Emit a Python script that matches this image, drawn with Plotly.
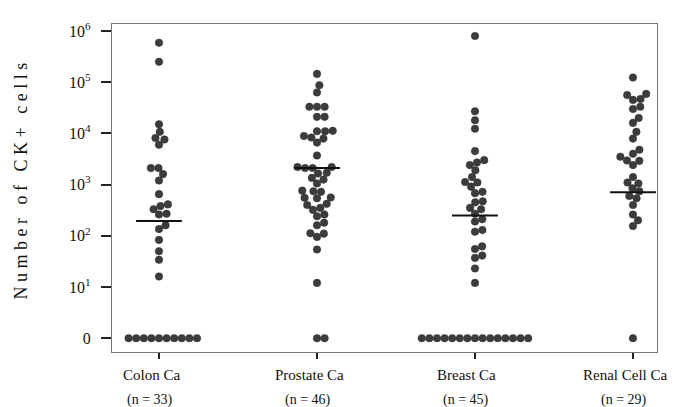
import math
import numpy as np
import plotly.graph_objects as go

# ---------------- data ----------------
categories = ["Colon Ca", "Prostate Ca", "Breast Ca", "Renal Cell Ca"]
n_labels = ["(n = 33)", "(n = 46)", "(n = 45)", "(n = 29)"]

colon = [590000, 250000, 15000, 10700, 8100, 7600, 6000, 2100, 2100, 1600, 1200,
         650, 410, 380, 330, 270, 260, 160, 135, 83, 50, 34, 16,
         0, 0, 0, 0, 0, 0, 0, 0, 0, 0]
prostate = [145000, 87000, 63000, 33000, 33000, 33000, 21000, 21000, 11200, 11000,
            11000, 8900, 8300, 7900, 6600, 3700, 2200, 2200, 2100, 2100, 1700, 1650,
            1350, 1250, 1050, 760, 740, 720, 560, 550, 540, 420, 400, 350, 320, 260,
            240, 180, 160, 112, 110, 95, 54, 12, 0, 0]
breast = [800000, 27000, 18000, 12300, 4500, 3000, 2700, 2400, 1900, 1400, 1120, 1100,
          910, 720, 680, 470, 450, 350, 330, 270, 210, 190, 130, 120, 62, 55, 41, 37,
          23, 12, 0, 0, 0, 0, 0, 0, 0, 0, 0, 0, 0, 0, 0, 0, 0]
renal = [123000, 59000, 56000, 47000, 45000, 33000, 30000, 20000, 16000, 10700, 7900,
         4800, 4000, 3500, 2950, 2900, 2400, 1400, 1100, 1050, 850, 740, 600, 540, 400,
         260, 200, 155, 0]
medians = [195, 2100, 250, 710]

tick_vals = [0, 10, 100, 1000, 10000, 100000, 1000000]
tick_text = ["0", "10<sup>1</sup>", "10<sup>2</sup>", "10<sup>3</sup>",
             "10<sup>4</sup>", "10<sup>5</sup>", "10<sup>6</sup>"]

groups = [colon, prostate, breast, renal]

# ---------------- layout geometry ----------------
# the page body has an 8px default margin, so the figure is sized to fit it
W, H = 668, 399
ML, MR, MT, MB = 104, 19, 14, 55
X_RANGE = [0.7025, 4.152]
Y_RANGE = [-0.27, 6.136]          # log10 units; "0" is drawn at the 10^0 position
plot_w = W - ML - MR
plot_h = H - MT - MB
sx = plot_w / (X_RANGE[1] - X_RANGE[0])   # px per category unit
sy = plot_h / (Y_RANGE[1] - Y_RANGE[0])   # px per decade
DOT = 7.6                                 # dot diameter for swarm spacing (px)


def to_axis(v):
    # zero counts sit on the "0" tick (position of 10^0 on the log axis)
    return v if v > 0 else 1.0


def swarm(values):
    logv = np.array([math.log10(to_axis(v)) for v in values])
    order = np.argsort(logv, kind="stable")
    placed = []
    offs = np.zeros(len(values))
    d2 = DOT * DOT
    for i in order:
        y = logv[i] * sy
        cands = [0.0]
        for px, py in placed:
            dy = y - py
            if abs(dy) < DOT:
                dx = math.sqrt(d2 - dy * dy)
                cands += [px + dx, px - dx]
        cands.sort(key=lambda c: (round(abs(c), 6), -c))
        for c in cands:
            if all((c - px) ** 2 + (y - py) ** 2 >= d2 - 1e-6 for px, py in placed):
                offs[i] = c
                placed.append((c, y))
                break
    return offs / sx


fig = go.Figure()

for gi, vals in enumerate(groups):
    offs = swarm(vals)
    fig.add_trace(go.Scatter(
        x=[gi + 1 + o for o in offs],
        y=[to_axis(v) for v in vals],
        mode="markers",
        marker=dict(size=7.6, color="#3c3c3c", line=dict(color="#2a2a2a", width=0.4)),
        showlegend=False, hoverinfo="skip"))

# median bars
mx, my = [], []
for gi, m in enumerate(medians):
    mx += [gi + 1 - 0.145, gi + 1 + 0.145, None]
    my += [m, m, None]
fig.add_trace(go.Scatter(x=mx, y=my, mode="lines",
                         line=dict(color="#111111", width=2),
                         showlegend=False, hoverinfo="skip", cliponaxis=True))

FONT = "Liberation Serif, Times New Roman, serif"

annotations = []
for gi, (c, n) in enumerate(zip(categories, n_labels)):
    annotations.append(dict(x=gi + 1, xref="x", y=-23 / plot_h, yref="paper",
                            text=c, showarrow=False, xshift=-8,
                            font=dict(family=FONT, size=15, color="#111"),
                            xanchor="center", yanchor="middle"))
    annotations.append(dict(x=gi + 1, xref="x", y=-48 / plot_h, yref="paper",
                            text=n, showarrow=False, xshift=-9,
                            font=dict(family=FONT, size=14, color="#111"),
                            xanchor="center", yanchor="middle"))

title_txt = "\u00a0".join(list("Number")) + "\u00a0\u00a0\u00a0" + \
            "\u00a0".join(list("of")) + "\u00a0\u00a0\u00a0" + \
            "\u00a0".join(list("CK+")) + "\u00a0\u00a0\u00a0" + \
            "\u00a0".join(list("cells"))
annotations.append(dict(x=-91 / plot_w, xref="paper", y=0.52, yref="paper",
                        text=title_txt, textangle=-90, showarrow=False,
                        font=dict(family=FONT, size=18, color="#111"),
                        xanchor="center", yanchor="middle"))

fig.update_layout(
    width=W, height=H,
    margin=dict(l=ML, r=MR, t=MT, b=MB),
    paper_bgcolor="white", plot_bgcolor="white",
    annotations=annotations,
    xaxis=dict(range=X_RANGE, tickvals=[1, 2, 3, 4], showticklabels=False,
               ticks="outside", ticklen=6, tickwidth=1.5, tickcolor="#222",
               showline=True, mirror=True, linecolor="#777", linewidth=1.2,
               showgrid=False, zeroline=False),
    yaxis=dict(type="log", range=Y_RANGE,
               tickvals=[to_axis(v) for v in tick_vals], ticktext=tick_text,
               ticks="outside", ticklen=10, tickwidth=1.5, tickcolor="#222",
               ticklabelstandoff=7,
               tickfont=dict(family=FONT, size=16, color="#111"),
               showline=True, mirror=True, linecolor="#777", linewidth=1.2,
               showgrid=False, zeroline=False),
)

fig.write_html("out.html")
